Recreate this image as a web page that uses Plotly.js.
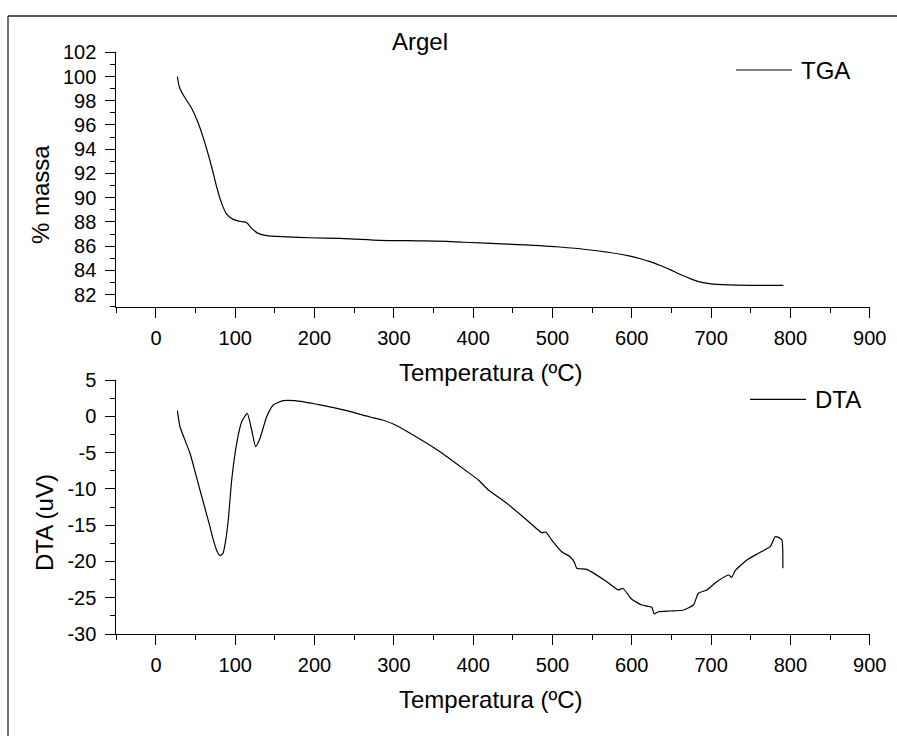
<!DOCTYPE html>
<html>
<head>
<meta charset="utf-8">
<script src="https://cdn.plot.ly/plotly-3.0.1.min.js"></script>
<style>
html,body{margin:0;padding:0;background:#fff;}
#chart{width:897px;height:736px;}
</style>
</head>
<body>
<div id="chart"></div>
<script>
// ---- Data ----
const tgaTemp = [27, 29.4, 34.5, 45, 53.4, 61.8, 70.2, 76.5, 82.8, 89.1, 97.5, 106, 114.4, 120.7, 129, 139.6, 164.8, 194, 232, 251, 282.5, 330, 366.7, 387.8, 442.4, 505.4, 555.9, 598, 610, 623, 635, 648.3, 660, 677.7, 690, 702.9, 732.4, 791.2];
const tgaMass = [100.0, 99.16, 98.47, 97.38, 96.14, 94.49, 92.55, 90.90, 89.53, 88.65, 88.21, 88.05, 87.93, 87.47, 87.05, 86.86, 86.77, 86.69, 86.64, 86.58, 86.48, 86.44, 86.40, 86.32, 86.17, 85.95, 85.62, 85.18, 84.98, 84.72, 84.42, 84.06, 83.70, 83.22, 82.98, 82.86, 82.78, 82.76];

const dtaTemp = [27, 30.3, 42.9, 55.5, 68.1, 72, 77, 81, 84.5, 87.5, 91.2, 95.5, 101.8, 108.1, 115.2, 120.7, 125.7, 131.2, 139.6, 148, 160.6, 175.3, 206.9, 240.5, 270, 286.8, 300, 318.3, 358.2, 389.7, 406.6, 419.3, 442.4, 467.6, 486.5, 491.5, 499.1, 511.7, 522.2, 527.3, 530.7, 543.3, 568.5, 583.2, 588.7, 600, 612.6, 625.2, 628.1, 633.6, 648.3, 665.1, 677.7, 684, 694.6, 707.2, 721.9, 726.1, 730.3, 745.1, 759.7, 774.5, 780.8, 785, 789.3, 790.5];
const dtaSignal = [0.77, -1.44, -5.10, -10.16, -15.21, -16.9, -18.6, -19.2, -18.9, -17.4, -14.29, -8.78, -3.72, -0.75, 0.41, -1.89, -4.19, -3.03, -0.06, 1.56, 2.15, 2.15, 1.56, 0.77, -0.10, -0.55, -1.10, -2.20, -4.88, -7.40, -8.78, -10.16, -11.99, -14.29, -16.04, -15.95, -17.05, -18.66, -19.35, -20.04, -20.95, -21.09, -22.79, -23.94, -23.70, -25.22, -26.00, -26.32, -27.24, -26.93, -26.83, -26.69, -26.00, -24.39, -23.94, -22.79, -21.87, -22.19, -21.28, -19.80, -18.88, -17.97, -16.59, -16.68, -17.05, -20.95];

// tick labels (hyphen-minus as in the reference)
const tgaTickVals = [82, 84, 86, 88, 90, 92, 94, 96, 98, 100, 102];
const tgaTickText = ["82", "84", "86", "88", "90", "92", "94", "96", "98", "100", "102"];
const dtaTickVals = [-30, -25, -20, -15, -10, -5, 0, 5];
const dtaTickText = ["-30", "-25", "-20", "-15", "-10", "-5", "0", "5"];
const tempTickVals = [0, 100, 200, 300, 400, 500, 600, 700, 800, 900];
const tempTickText = ["0", "100", "200", "300", "400", "500", "600", "700", "800", "900"];

const chartTitle = "Argel";
const xTitle = "Temperatura (ºC)";
const yTitleTop = "% massa";
const yTitleBottom = "DTA (uV)";
const seriesNames = ["TGA", "DTA"];

// ---- Layout helpers (pixel -> paper) ----
const W = 897, H = 736;
const px = x => x / W;
const py = y => 1 - y / H;
const FONT = "Arial";

const xDomain = [px(116.3), px(869.7)];

function xAxis(anchor){
  return {
    anchor: anchor, domain: xDomain, range: [-50, 900],
    tickmode: "array", tickvals: tempTickVals, ticktext: tempTickText,
    ticks: "outside", ticklen: 10, tickwidth: 1, tickcolor: "#000",
    showline: true, linecolor: "#000", linewidth: 1, showgrid: false, zeroline: false,
    tickfont: {family: FONT, size: 20, color: "#000"},
    minor: {tick0: 0, dtick: 50, ticks: "outside", ticklen: 5, tickwidth: 1, tickcolor: "#000", showgrid: false},
    ticklabelstandoff: 3
  };
}
function yAxis(anchor, domain, range, vals, text, minorDtick){
  return {
    anchor: anchor, domain: domain, range: range,
    tickmode: "array", tickvals: vals, ticktext: text,
    ticks: "outside", ticklen: 10, tickwidth: 1, tickcolor: "#000",
    showline: true, linecolor: "#000", linewidth: 1, showgrid: false, zeroline: false,
    tickfont: {family: FONT, size: 20, color: "#000"},
    minor: {tick0: 0, dtick: minorDtick, ticks: "outside", ticklen: 5, tickwidth: 1, tickcolor: "#000", showgrid: false},
    ticklabelstandoff: 5
  };
}

const traces = [
  {x: tgaTemp, y: tgaMass, xaxis: "x", yaxis: "y", mode: "lines", name: seriesNames[0],
   line: {color: "#000", width: 1.2, shape: "spline", smoothing: 0.6}, showlegend: false},
  {x: dtaTemp, y: dtaSignal, xaxis: "x2", yaxis: "y2", mode: "lines", name: seriesNames[1],
   line: {color: "#000", width: 1.2, shape: "spline", smoothing: 0.5}, showlegend: false}
];

const layout = {
  width: W, height: H,
  margin: {l: 0, r: 0, t: 0, b: 0, pad: 0},
  paper_bgcolor: "#fff", plot_bgcolor: "rgba(0,0,0,0)",
  font: {family: FONT, color: "#000"},
  showlegend: false,
  xaxis: xAxis("y"),
  yaxis: yAxis("x", [py(306.7), py(52.3)], [81, 102], tgaTickVals, tgaTickText, 1),
  xaxis2: xAxis("y2"),
  yaxis2: yAxis("x2", [py(634), py(380)], [-30, 5], dtaTickVals, dtaTickText, 2.5),
  shapes: [
    {type: "line", xref: "paper", yref: "paper", x0: px(8), x1: px(905), y0: py(16), y1: py(16), line: {color: "#222", width: 1.3}},
    {type: "line", xref: "paper", yref: "paper", x0: px(8), x1: px(8), y0: py(16), y1: py(745), line: {color: "#222", width: 1.3}},
    {type: "line", xref: "paper", yref: "paper", x0: px(736), x1: px(792), y0: py(70), y1: py(70), line: {color: "#000", width: 1.2}},
    {type: "line", xref: "paper", yref: "paper", x0: px(750), x1: px(806), y0: py(399.3), y1: py(399.3), line: {color: "#000", width: 1.2}}
  ],
  annotations: [
    {text: chartTitle, xref: "paper", yref: "paper", x: px(420), y: py(42), xanchor: "center", yanchor: "middle", showarrow: false, font: {family: FONT, size: 24, color: "#000"}},
    {text: seriesNames[0], xref: "paper", yref: "paper", x: px(799), y: py(70.5), xanchor: "left", yanchor: "middle", showarrow: false, font: {family: FONT, size: 24, color: "#000"}},
    {text: seriesNames[1], xref: "paper", yref: "paper", x: px(813), y: py(399.5), xanchor: "left", yanchor: "middle", showarrow: false, font: {family: FONT, size: 24, color: "#000"}},
    {text: xTitle, xref: "paper", yref: "paper", x: px(490), y: py(372), xanchor: "center", yanchor: "middle", showarrow: false, font: {family: FONT, size: 24, color: "#000"}},
    {text: xTitle, xref: "paper", yref: "paper", x: px(490), y: py(699), xanchor: "center", yanchor: "middle", showarrow: false, font: {family: FONT, size: 24, color: "#000"}},
    {text: yTitleTop, xref: "paper", yref: "paper", x: px(40), y: py(195), xanchor: "center", yanchor: "middle", textangle: -90, showarrow: false, font: {family: FONT, size: 24, color: "#000"}},
    {text: yTitleBottom, xref: "paper", yref: "paper", x: px(44), y: py(523), xanchor: "center", yanchor: "middle", textangle: -90, showarrow: false, font: {family: FONT, size: 24, color: "#000"}}
  ]
};

Plotly.newPlot("chart", traces, layout, {displayModeBar: false, staticPlot: true});
</script>
</body>
</html>
